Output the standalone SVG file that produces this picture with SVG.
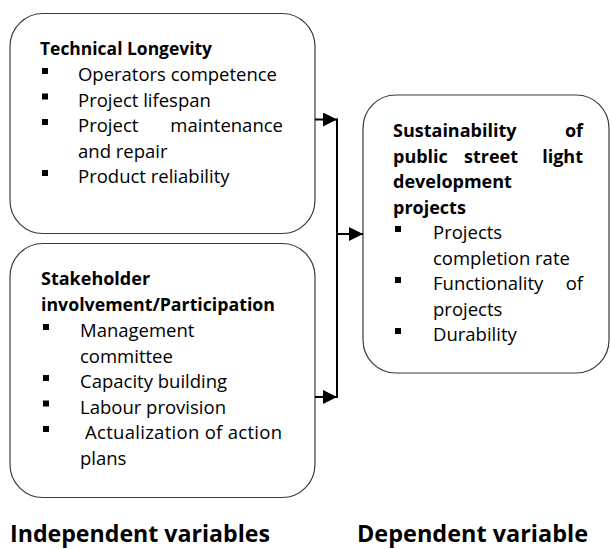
<svg xmlns="http://www.w3.org/2000/svg" width="611" height="549" viewBox="0 0 611 549">
  <style>
    .box { fill: #ffffff; stroke: #3a3a3a; stroke-width: 1.2; }
    .t { font-family: "Open Sans", "Noto Sans", sans-serif; font-size: 18.5px; fill: #000; }
    .h { font-family: "Open Sans", "Noto Sans", sans-serif; font-size: 18px; font-weight: bold; fill: #000; }
    .cap { font-family: "Open Sans", "Noto Sans", sans-serif; font-size: 24px; font-weight: bold; fill: #000; }
    .b { fill: #000; }
    .wire { fill: none; stroke: #000; stroke-width: 2; }
  </style>
  <defs>
    <marker id="arrow" viewBox="0 0 14 14" refX="14" refY="7" markerWidth="14" markerHeight="14" markerUnits="userSpaceOnUse" orient="auto">
      <path d="M0,0 L14,7 L0,14 Z" fill="#000"/>
    </marker>
  </defs>

  <rect width="611" height="549" fill="#ffffff"/>

  <!-- Technical longevity -->
  <g id="technical-longevity">
    <rect class="box" x="10" y="13.5" width="305" height="220" rx="33" ry="33"/>
    <text class="h" x="40" y="55" textLength="172" lengthAdjust="spacingAndGlyphs">Technical Longevity</text>
    <rect class="b" x="42" y="68" width="6" height="6"/>
    <text class="t" x="78" y="81" textLength="199" lengthAdjust="spacingAndGlyphs">Operators competence</text>
    <rect class="b" x="42" y="93.5" width="6" height="6"/>
    <text class="t" x="78" y="106.5">Project lifespan</text>
    <rect class="b" x="42" y="119" width="6" height="6"/>
    <text class="t" x="78" y="132">Project</text>
    <text class="t" x="283" y="132" text-anchor="end">maintenance</text>
    <text class="t" x="78" y="157.5">and repair</text>
    <rect class="b" x="42" y="170" width="6" height="6"/>
    <text class="t" x="78" y="183">Product reliability</text>
  </g>

  <!-- Stakeholder involvement -->
  <g id="stakeholder-involvement">
    <rect class="box" x="10" y="243.5" width="305" height="254" rx="33" ry="33"/>
    <text class="h" x="41" y="285">Stakeholder</text>
    <text class="h" x="41" y="310.5" textLength="234" lengthAdjust="spacingAndGlyphs">involvement/Participation</text>
    <rect class="b" x="43" y="324" width="6" height="6"/>
    <text class="t" x="80" y="337">Management</text>
    <text class="t" x="80" y="362.5">committee</text>
    <rect class="b" x="43" y="375" width="6" height="6"/>
    <text class="t" x="80" y="388">Capacity building</text>
    <rect class="b" x="43" y="400.5" width="6" height="6"/>
    <text class="t" x="80" y="413.5">Labour provision</text>
    <rect class="b" x="43" y="426" width="6" height="6"/>
    <text class="t" x="85" y="439" textLength="197" lengthAdjust="spacing">Actualization of action</text>
    <text class="t" x="80" y="464.5">plans</text>
  </g>

  <!-- Sustainability outcome -->
  <g id="sustainability">
    <rect class="box" x="363" y="95" width="246" height="278" rx="33" ry="33"/>
    <text class="h" x="393" y="137">Sustainability</text>
    <text class="h" x="583" y="137" text-anchor="end">of</text>
    <text class="h" x="393" y="162.5">public</text>
    <text class="h" x="491" y="162.5" text-anchor="middle">street</text>
    <text class="h" x="583" y="162.5" text-anchor="end">light</text>
    <text class="h" x="393" y="188">development</text>
    <text class="h" x="393" y="213.5">projects</text>
    <rect class="b" x="395" y="226" width="6" height="6"/>
    <text class="t" x="433" y="239">Projects</text>
    <text class="t" x="433" y="264.5">completion rate</text>
    <rect class="b" x="395" y="277" width="6" height="6"/>
    <text class="t" x="433" y="290">Functionality</text>
    <text class="t" x="583" y="290" text-anchor="end">of</text>
    <text class="t" x="433" y="315.5">projects</text>
    <rect class="b" x="395" y="328" width="6" height="6"/>
    <text class="t" x="433" y="341">Durability</text>
  </g>

  <!-- Connectors -->
  <g id="connectors">
    <line class="wire" x1="315" y1="119.5" x2="337" y2="119.5" marker-end="url(#arrow)"/>
    <line class="wire" x1="315" y1="397" x2="337" y2="397" marker-end="url(#arrow)"/>
    <line class="wire" x1="337" y1="118.5" x2="337" y2="398"/>
    <line class="wire" x1="337" y1="234" x2="363" y2="234" marker-end="url(#arrow)"/>
  </g>

  <!-- Column captions -->
  <g id="captions">
    <text class="cap" x="10" y="542" textLength="260" lengthAdjust="spacingAndGlyphs">Independent variables</text>
    <text class="cap" x="357" y="542" textLength="231" lengthAdjust="spacingAndGlyphs">Dependent variable</text>
  </g>
</svg>
